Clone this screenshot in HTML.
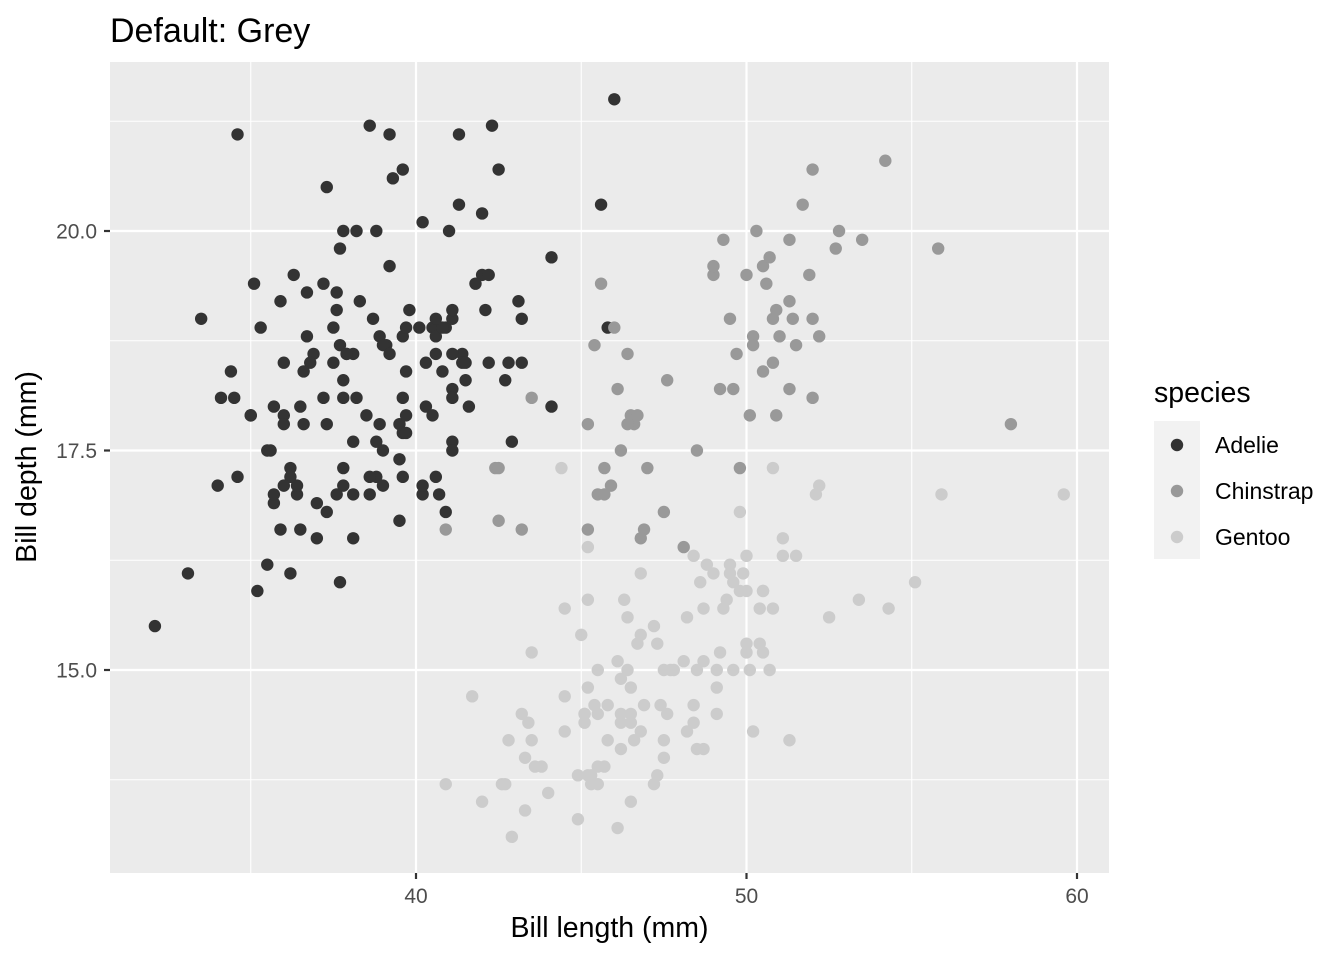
<!DOCTYPE html>
<html><head><meta charset="utf-8"><style>
html,body{margin:0;padding:0;background:#fff;}
svg{display:block;font-family:"Liberation Sans",sans-serif;}
</style></head><body>
<svg id="chart" width="1344" height="960" viewBox="0 0 1344 960">
<text x="110" y="42" style="font-size:34px" fill="#000">Default: Grey</text>
<rect x="110" y="62" width="999" height="811" fill="#ebebeb"/>
<g id="grid"></g><g id="pts"></g><g id="axes"></g>
<text x="609.5" y="937" style="font-size:28.5px" text-anchor="middle" fill="#000">Bill length (mm)</text>
<text transform="translate(36,467) rotate(-90)" style="font-size:28.5px" text-anchor="middle" fill="#000">Bill depth (mm)</text>
<g id="legend">
<text x="1154" y="402" style="font-size:28.5px" fill="#000">species</text>
<rect x="1154" y="421" width="46" height="138" fill="#f2f2f2"/>
</g>
</svg>
<script>
const species = ["Adelie","Chinstrap","Gentoo"];
const colors = ["#333333","#999999","#cccccc"];
const xTicks = [40,50,60];
const yTicks = [15,17.5,20];
const xTickLabels = ["40","50","60"];
const yTickLabels = ["15.0","17.5","20.0"];
const adelie = [[39.1,18.7],[39.5,17.4],[40.3,18],[36.7,19.3],[39.3,20.6],[38.9,17.8],[39.2,19.6],[34.1,18.1],[42,20.2],[37.8,17.1],[37.8,17.3],[41.1,17.6],[38.6,21.2],[34.6,21.1],[36.6,17.8],[38.7,19],[42.5,20.7],[34.4,18.4],[46,21.5],[37.8,18.3],[37.7,18.7],[35.9,19.2],[38.2,18.1],[38.8,17.2],[35.3,18.9],[40.6,18.6],[40.5,17.9],[37.9,18.6],[40.5,18.9],[39.5,16.7],[37.2,18.1],[39.5,17.8],[40.9,18.9],[36.4,17],[39.2,21.1],[38.8,20],[42.2,18.5],[37.6,19.3],[39.8,19.1],[36.5,18],[40.8,18.4],[36,18.5],[44.1,19.7],[37,16.9],[39.6,18.8],[41.1,19],[37.5,18.9],[36,17.9],[42.3,21.2],[39.6,17.7],[40.1,18.9],[35,17.9],[42,19.5],[34.5,18.1],[41.4,18.6],[39,17.5],[40.6,18.8],[36.5,16.6],[37.6,19.1],[35.7,16.9],[41.3,21.1],[37.6,17],[41.1,18.2],[36.4,17.1],[41.6,18],[35.5,16.2],[41.1,19.1],[35.9,16.6],[41.8,19.4],[33.5,19],[39.7,18.4],[39.6,17.2],[45.8,18.9],[35.5,17.5],[42.8,18.5],[40.9,16.8],[37.2,19.4],[36.2,16.1],[42.1,19.1],[34.6,17.2],[42.9,17.6],[36.7,18.8],[35.1,19.4],[37.3,17.8],[41.3,20.3],[36.3,19.5],[36.9,18.6],[38.3,19.2],[38.9,18.8],[35.7,18],[41.1,18.1],[34,17.1],[39.6,18.1],[36.2,17.3],[40.8,18.9],[38.1,18.6],[40.3,18.5],[33.1,16.1],[43.2,18.5],[35,17.9],[41,20],[37.7,16],[37.8,20],[37.9,18.6],[39.7,18.9],[38.6,17.2],[38.2,20],[38.1,17],[43.2,19],[38.1,16.5],[45.6,20.3],[39.7,17.7],[42.2,19.5],[39.6,20.7],[42.7,18.3],[38.6,17],[37.3,20.5],[35.7,17],[41.1,18.6],[36.2,17.2],[37.7,19.8],[40.2,17],[41.4,18.5],[35.2,15.9],[40.6,19],[38.8,17.6],[41.5,18.3],[39,17.1],[44.1,18],[38.5,17.9],[43.1,19.2],[36.8,18.5],[37.5,18.5],[38.1,17.6],[41.1,17.5],[35.6,17.5],[40.2,20.1],[37,16.5],[39.7,17.9],[40.2,17.1],[40.6,17.2],[32.1,15.5],[40.7,17],[37.3,16.8],[39,18.7],[39.2,18.6],[36.6,18.4],[36,17.8],[37.8,18.1],[36,17.1],[41.5,18.5]];
const chinstrap = [[46.5,17.9],[50,19.5],[51.3,19.2],[45.4,18.7],[52.7,19.8],[45.2,17.8],[46.1,18.2],[51.3,18.2],[46,18.9],[51.3,19.9],[46.6,17.8],[51.7,20.3],[47,17.3],[52,18.1],[45.9,17.1],[50.5,19.6],[50.3,20],[58,17.8],[46.4,18.6],[49.2,18.2],[42.4,17.3],[48.5,17.5],[43.2,16.6],[50.6,19.4],[46.7,17.9],[52,19],[50.5,18.4],[49.5,19],[46.4,17.8],[52.8,20],[40.9,16.6],[54.2,20.8],[42.5,16.7],[51,18.8],[49.7,18.6],[47.5,16.8],[47.6,18.3],[52,20.7],[46.9,16.6],[53.5,19.9],[49,19.5],[46.2,17.5],[50.9,19.1],[45.5,17],[50.9,17.9],[50.8,18.5],[50.1,17.9],[49,19.6],[51.5,18.7],[49.8,17.3],[48.1,16.4],[51.4,19],[45.7,17.3],[50.7,19.7],[42.5,17.3],[52.2,18.8],[45.2,16.6],[49.3,19.9],[50.2,18.8],[45.6,19.4],[51.9,19.5],[46.8,16.5],[45.7,17],[55.8,19.8],[43.5,18.1],[49.6,18.2],[50.8,19],[50.2,18.7]];
const gentoo = [[46.1,13.2],[50,16.3],[48.7,14.1],[50,15.2],[47.6,14.5],[46.5,13.5],[45.4,14.6],[46.7,15.3],[43.3,13.4],[46.8,15.4],[40.9,13.7],[49,16.1],[45.5,13.7],[48.4,14.6],[45.8,14.6],[49.3,15.7],[42,13.5],[49.2,15.2],[46.2,14.5],[48.7,15.1],[50.2,14.3],[45.1,14.5],[46.5,14.5],[46.3,15.8],[42.9,13.1],[46.1,15.1],[44.5,14.3],[47.8,15],[48.2,14.3],[50,15.3],[47.3,15.3],[42.8,14.2],[45.1,14.5],[59.6,17],[49.1,14.8],[48.4,16.3],[42.6,13.7],[44.4,17.3],[44,13.6],[48.7,15.7],[42.7,13.7],[49.6,16],[45.3,13.7],[49.6,15],[50.5,15.9],[43.6,13.9],[45.5,13.9],[50.5,15.9],[44.9,13.3],[45.2,15.8],[46.6,14.2],[48.5,14.1],[45.1,14.4],[50.1,15],[46.5,14.4],[45,15.4],[43.8,13.9],[45.5,15],[43.2,14.5],[50.4,15.3],[45.3,13.8],[46.2,14.9],[45.7,13.9],[54.3,15.7],[45.8,14.2],[49.8,16.8],[46.2,14.4],[49.5,16.2],[43.5,14.2],[50.7,15],[47.7,15],[46.4,15.6],[48.2,15.6],[46.5,14.8],[46.4,15],[48.6,16],[47.5,14.2],[51.1,16.3],[45.2,13.8],[45.2,16.4],[49.1,14.5],[52.5,15.6],[47.4,14.6],[50,15.9],[44.9,13.8],[50.8,17.3],[43.4,14.4],[51.3,14.2],[47.5,14],[52.1,17],[47.5,15],[52.2,17.1],[45.5,14.5],[49.5,16.1],[44.5,14.7],[50.8,15.7],[49.4,15.8],[46.9,14.6],[48.4,14.4],[51.1,16.5],[48.5,15],[55.9,17],[47.2,15.5],[49.1,15],[47.3,13.8],[46.8,16.1],[41.7,14.7],[53.4,15.8],[43.3,14],[48.1,15.1],[50.5,15.2],[49.8,15.9],[43.5,15.2],[51.5,16.3],[46.2,14.1],[55.1,16],[44.5,15.7],[48.8,16.2],[47.2,13.7],[46.8,14.3],[50.4,15.7],[45.2,14.8],[49.9,16.1]];

const NS="http://www.w3.org/2000/svg";
const xs = v => 416 + (v-40)*33.05;
const ys = v => 231 + (20-v)*87.8;
function mk(tag, attrs, parent){const e=document.createElementNS(NS,tag);for(const k in attrs)e.setAttribute(k,attrs[k]);parent.appendChild(e);return e;}
const grid=document.getElementById('grid'), axes=document.getElementById('axes'), pts=document.getElementById('pts');
for(let i=0;i<xTicks.length+1;i++){
  const v=xTicks[0]-5+10*i; if(xs(v)<110||xs(v)>1109) continue;
  const l=mk('line',{x1:xs(v),x2:xs(v),y1:62,y2:873,stroke:'#fff','stroke-width':1.1},grid);
  
  
}
for(let i=0;i<yTicks.length+1;i++){
  const v=yTicks[0]-1.25+2.5*i; if(ys(v)<62||ys(v)>873) continue;
  const l=mk('line',{x1:110,x2:1109,y1:ys(v),y2:ys(v),stroke:'#fff','stroke-width':1.1},grid);
  
  
}
xTicks.forEach((v,i)=>{
  const l=mk('line',{x1:xs(v),x2:xs(v),y1:62,y2:873,stroke:'#fff','stroke-width':2.2},grid);
  
  
  const t=mk('line',{x1:xs(v),x2:xs(v),y1:873,y2:879,stroke:'#333','stroke-width':2.2},axes);
  
  
  const tx=mk('text',{x:xs(v),y:903,style:'font-size:21px','text-anchor':'middle',fill:'#4d4d4d'},axes);
  tx.textContent=xTickLabels[i];
  
  
});
yTicks.forEach((v,i)=>{
  const l=mk('line',{x1:110,x2:1109,y1:ys(v),y2:ys(v),stroke:'#fff','stroke-width':2.2},grid);
  
  
  const t=mk('line',{x1:104,x2:110,y1:ys(v),y2:ys(v),stroke:'#333','stroke-width':2.2},axes);
  
  
  const tx=mk('text',{x:97,y:ys(v)+7.5,style:'font-size:21px','text-anchor':'end',fill:'#4d4d4d'},axes);
  tx.textContent=yTickLabels[i];
  
  
});
[adelie,chinstrap,gentoo].forEach((ser,si)=>{
  ser.forEach(p=>{
    const c=mk('circle',{cx:xs(p[0]),cy:ys(p[1]),r:6.2,fill:colors[si]},pts);
    
    
  });
});
const lg=document.getElementById('legend');
species.forEach((s,i)=>{
  const y=445+46*i;
  const c=mk('circle',{cx:1177,cy:y,r:6.2,fill:colors[i]},lg);
  
  
  const t=mk('text',{x:1215,y:y+8,style:'font-size:23px',fill:'#000'},lg);
  t.textContent=s;
  
  
});
</script>
</body></html>
